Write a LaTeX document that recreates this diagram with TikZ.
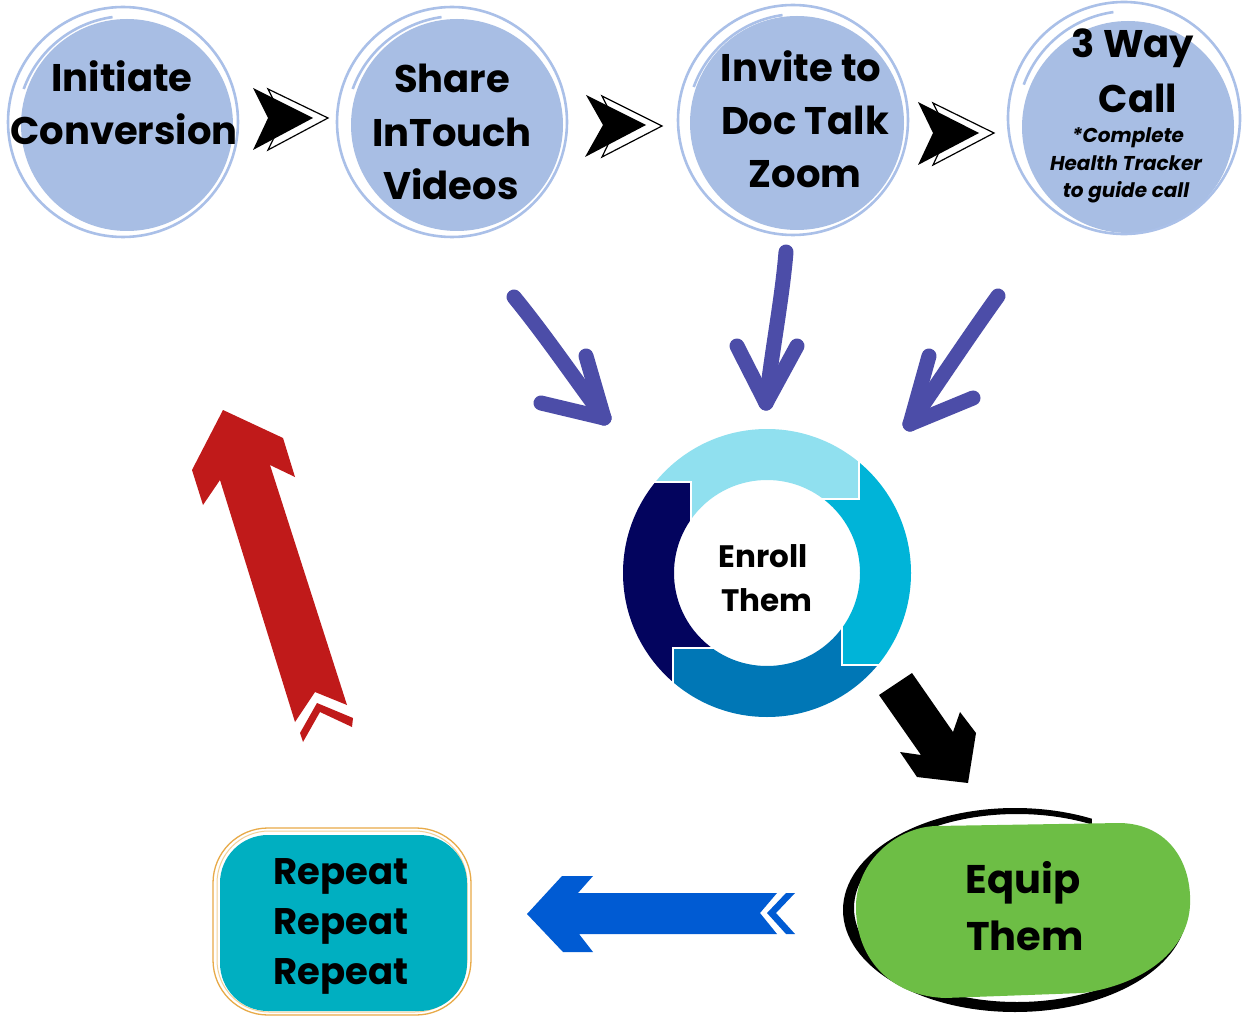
\documentclass[tikz,border=0pt]{standalone}
\usepackage{fontspec}
\setmainfont{Poppins}
\definecolor{bubblefill}{RGB}{168,190,228}
\definecolor{bubbleline}{RGB}{170,192,232}
\definecolor{purp}{RGB}{76,77,168}
\definecolor{segA}{RGB}{144,224,239}
\definecolor{segB}{RGB}{0,180,216}
\definecolor{segC}{RGB}{0,119,182}
\definecolor{segD}{RGB}{3,4,94}
\definecolor{redarrow}{RGB}{192,26,26}
\definecolor{bluearrow}{RGB}{0,91,211}
\definecolor{teal}{RGB}{0,175,193}
\definecolor{orangeline}{RGB}{232,170,72}
\definecolor{orangelight}{RGB}{242,208,150}
\definecolor{greenblob}{RGB}{109,190,69}
\tikzset{
  bubble/.style={circle, fill=bubblefill, inner sep=0pt, minimum size=#1},
  sketch/.style={draw=bubbleline, line width=2.6pt},
  bigtxt/.style={anchor=base, inner sep=0pt, font=\fontsize{38.5}{46}\selectfont\bfseries},
  eqtxt/.style={anchor=base, inner sep=0pt, font=\fontsize{40}{48}\selectfont\bfseries},
  midtxt/.style={anchor=base, inner sep=0pt, font=\fontsize{37}{44}\selectfont\bfseries},
  smalltxt/.style={anchor=base, inner sep=0pt, font=\fontsize{20}{24}\selectfont\bfseries\itshape},
  ringtxt/.style={anchor=base, inner sep=0pt, font=\fontsize{31}{36}\selectfont\bfseries},
  chevout/.style={fill=white, draw=black, line width=1.2pt, line join=miter},
  chevin/.style={fill=black},
  purparrow/.style={draw=purp, line width=15pt, line cap=round, line join=round},
  segline/.style={draw=white, line width=2.5pt},
}
\begin{document}
\begin{tikzpicture}[x=1pt,y=-1pt]
\useasboundingbox (0,0) rectangle (1242,1016);
\fill[white] (0,0) rectangle (1242,1016);

% ---------- top bubbles ----------
\node[bubble=212pt] (c1) at (127,125) {};
\draw[sketch] (123,122) circle[radius=115];
\draw[sketch] (128,127) ++(200:111) arc[start angle=200, end angle=262, radius=111];

\node[bubble=212pt] (c2) at (457,125) {};
\draw[sketch] (452,122) circle[radius=115];
\draw[sketch] (457,127) ++(200:111) arc[start angle=200, end angle=262, radius=111];

\node[bubble=214pt] (c3) at (797,123) {};
\draw[sketch] (793,120) circle[radius=115];
\draw[sketch] (798,125) ++(200:111) arc[start angle=200, end angle=262, radius=111];

\node[bubble=212pt] (c4) at (1128,127) {};
\draw[sketch] (1124,118) circle[radius=116];
\draw[sketch] (1129,123) ++(200:112) arc[start angle=200, end angle=262, radius=112];

% bubble texts
\node[bigtxt] (t1a) at (122,92) {Initiate};
\node[bigtxt] (t1b) at (124,145) {Conversion};

\node[bigtxt] (t2a) at (452,93) {Share};
\node[bigtxt] (t2b) at (452,147) {InTouch};
\node[bigtxt] (t2c) at (451,200) {Videos};

\node[bigtxt] (t3a) at (801,82) {Invite to};
\node[bigtxt] (t3b) at (805,135) {Doc Talk};
\node[bigtxt] (t3c) at (805,188) {Zoom};

\node[bigtxt] (t4a) at (1133,58) {3 Way};
\node[bigtxt] (t4b) at (1138,113) {Call};
\node[smalltxt] (t4c) at (1128,143) {*Complete};
\node[smalltxt] (t4d) at (1126,171) {Health Tracker};
\node[smalltxt] (t4e) at (1126,198) {to guide call};

% ---------- chevron arrows between bubbles ----------
\draw[chevout] (268,89) -- (328,118) -- (268,150) -- (283,119) -- cycle;
\fill[chevin] (253,88) -- (313,118) -- (253,150) -- (268,118) -- cycle;

\draw[chevout] (602,96) -- (662,126) -- (602,157) -- (617,126) -- cycle;
\fill[chevin] (586,95) -- (646,125) -- (585,157) -- (603,125) -- cycle;

\draw[chevout] (933,103) -- (994,133) -- (933,165) -- (948,133) -- cycle;
\fill[chevin] (918,102) -- (979,133) -- (918,165) -- (933,133) -- cycle;

% ---------- purple hand-drawn arrows ----------
\coordinate (pL) at (604,418);
\draw[purparrow] (514,297) .. controls (545,335) and (570,372) .. (pL);
\draw[purparrow] (586,356) -- (pL);
\draw[purparrow] (541,403) -- (pL);

\coordinate (pM) at (766,403);
\draw[purparrow] (786,252) .. controls (782,300) and (772,350) .. (pM);
\draw[purparrow] (737,346) -- (pM);
\draw[purparrow] (797,346) -- (pM);

\coordinate (pR) at (910,424);
\draw[purparrow] (998,296) .. controls (970,335) and (940,380) .. (pR);
\draw[purparrow] (929,356) -- (pR);
\draw[purparrow] (973,398) -- (pR);

% ---------- Enroll ring ----------
\coordinate (rc) at (767,573);
\begin{scope}
  \clip (767,573) -- (691,519) -- (691,482) -- (560,482) -- (560,380) -- (859,380) -- (859,499) -- (823,499) -- cycle;
  \fill[segA, even odd rule] (rc) circle[radius=144] (rc) circle[radius=93];
\end{scope}
\begin{scope}
  \clip (767,573) -- (823,499) -- (859,499) -- (859,380) -- (1000,380) -- (1000,665) -- (842,665) -- (842,628) -- cycle;
  \fill[segB, even odd rule] (rc) circle[radius=144] (rc) circle[radius=93];
\end{scope}
\begin{scope}
  \clip (767,573) -- (842,628) -- (842,665) -- (1000,665) -- (1000,800) -- (673,800) -- (673,648) -- (712,648) -- cycle;
  \fill[segC, even odd rule] (rc) circle[radius=144] (rc) circle[radius=93];
\end{scope}
\begin{scope}
  \clip (767,573) -- (712,648) -- (673,648) -- (673,800) -- (560,800) -- (560,482) -- (691,482) -- (691,519) -- cycle;
  \fill[segD, even odd rule] (rc) circle[radius=144] (rc) circle[radius=93];
\end{scope}
\draw[segline] (691,522) -- (691,482) -- (650,482);
\draw[segline] (820,499) -- (859,499) -- (859,460);
\draw[segline] (842,625) -- (842,665) -- (882,665);
\draw[segline] (715,648) -- (673,648) -- (673,685);
\node[ringtxt] (e1) at (763,567) {Enroll};
\node[ringtxt] (e2) at (767,611) {Them};

% ---------- black arrow to Equip ----------
\fill[black] (879,695) -- (912,673) -- (953,732) -- (960,712) -- (976,733) -- (968,783) -- (917,777) -- (900,752) -- (921,755) -- cycle;

% ---------- Equip Them ----------
\fill[black, even odd rule] (1015,910) ellipse[x radius=172, y radius=102]
      (1017,908) ellipse[x radius=163, y radius=94];
\fill[white] (1092,798) -- (1165,798) -- (1165,852) -- (1092,826) -- cycle;
\fill[greenblob] (935,826) -- (1120,823) .. controls (1168,824) and (1192,862) .. (1190,905)
   .. controls (1188,950) and (1145,984) .. (1083,993) -- (945,998)
   .. controls (890,996) and (855,958) .. (856,905)
   .. controls (857,862) and (895,828) .. (935,826) -- cycle;
\node[eqtxt] (q1) at (1023,893) {Equip};
\node[eqtxt] (q2) at (1025,950) {Them};

% ---------- blue arrow ----------
\fill[bluearrow] (527,914) -- (562,876) -- (593,876) -- (578,893) -- (777,893) -- (760,913)
   -- (777,934) -- (579,934) -- (593,952) -- (563,952) -- cycle;
\fill[bluearrow] (786,893) -- (767,913) -- (786,934) -- (795,934) -- (776,913) -- (795,893) -- cycle;

% ---------- Repeat box ----------
\draw[orangeline, line width=1.3pt, rounded corners=55pt] (213,828) rectangle (471,1015);
\draw[orangelight, line width=1pt, rounded corners=52pt] (217,831) rectangle (467,1012);
\fill[teal, rounded corners=48pt] (220,835) rectangle (467,1011);
\node[midtxt] (r1) at (341,884) {Repeat};
\node[midtxt] (r2) at (341,934) {Repeat};
\node[midtxt] (r3) at (341,984) {Repeat};

% ---------- red arrow ----------
\fill[redarrow] (223,410) -- (283,438) -- (295,477) -- (270,465) -- (347,705) -- (315,692)
   -- (295,722) -- (220,480) -- (203,505) -- (192,470) -- cycle;
\fill[redarrow] (300,733) -- (317,703) -- (353,718) -- (352,727) -- (320,712) -- (303,742) -- cycle;
\end{tikzpicture}
\end{document}
